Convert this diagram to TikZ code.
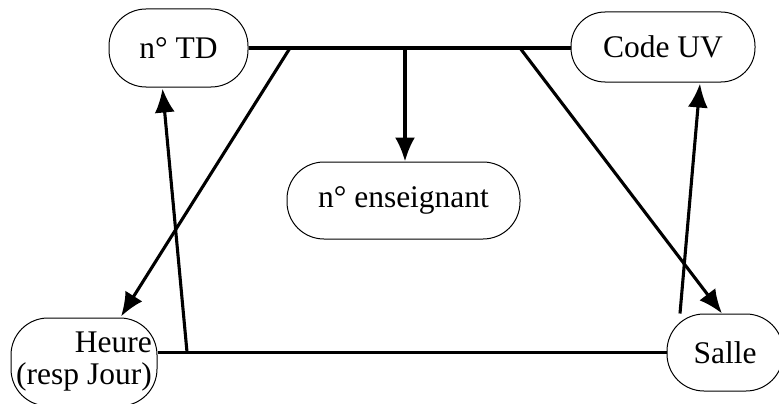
\documentclass[tikz,border=0pt]{standalone}
\usepackage{fontspec}
\setmainfont{Liberation Serif}
\usetikzlibrary{arrows.meta,calc}
\begin{document}
\begin{tikzpicture}[x=1pt,y=-1pt,
  box/.style={draw,line width=1pt,rounded corners=37pt,inner sep=0pt,
    font=\fontsize{31.5}{32}\selectfont},
  link/.style={line width=3.1pt},
  arr/.style={line width=3.1pt,-{Latex[length=24pt,width=20pt]}}]
\useasboundingbox (0,0) rectangle (779,404);
\node[box,minimum width=139pt,minimum height=78pt] (td) at (178.5,48) {n° TD};
\node[box,minimum width=184pt,minimum height=70pt,rounded corners=34pt] (uv) at (663,47) {Code UV};
\node[box,minimum width=233pt,minimum height=77pt] (ens) at (403.5,200.5) {n° enseignant};
\node[box,minimum width=116pt,minimum height=77pt] (salle) at (725,352.5) {Salle};
\node[box,minimum width=146pt,minimum height=88pt,align=right] (heure) at (84,362) {Heure\\(resp Jour)};
% top bar
\draw[link] (td.east |- 0,48) -- (uv.west |- 0,48);
\coordinate (j1) at (290,48);
\coordinate (j2) at (405,48);
\coordinate (j3) at (520,48);
\draw[arr] (j1) -- ($(heure.north)+(37,-1)$);
\draw[arr] (j2) -- (ens.north -| j2);
\draw[arr] (j3) -- ($(salle.north)+(-3,0)$);
% bottom bar
\draw[link] (salle.west) -- (salle.west -| heure.east);
\coordinate (j4) at (187,352);
\draw[arr] (j4) -- ($(td.south)+(-16,1)$);
\draw[arr] ($(salle.north)+(-45,0)$) -- ($(uv.south)+(37,1)$);
\end{tikzpicture}
\end{document}
